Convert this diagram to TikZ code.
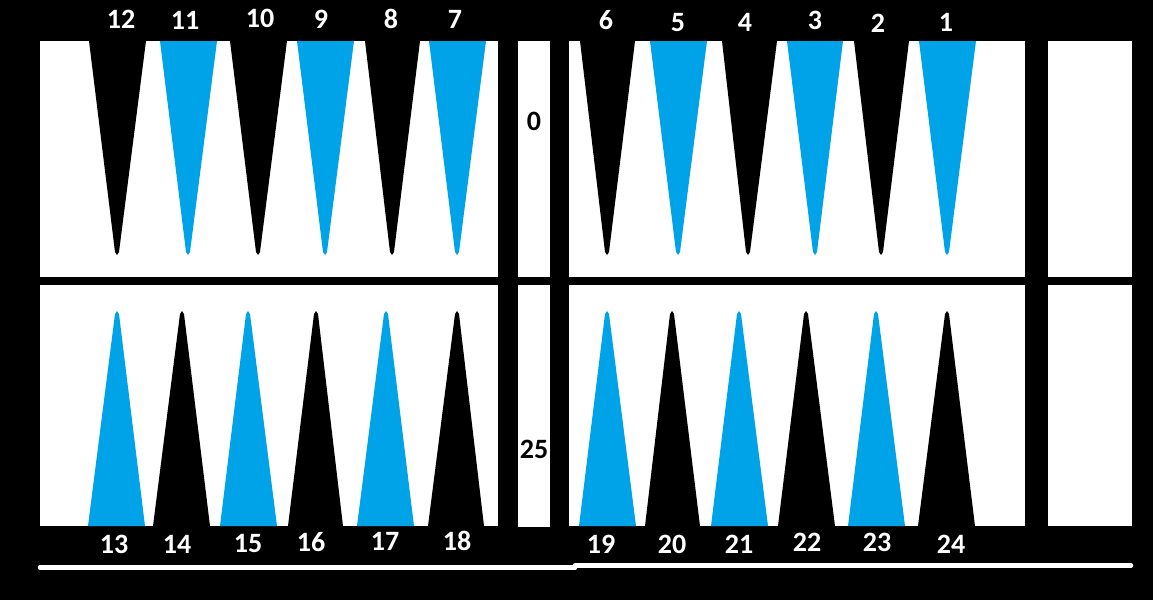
\documentclass[tikz,border=0pt]{standalone}
\usepackage{fontspec}
\setmainfont{Carlito}
\usepackage{tikz}
\usepackage{xcolor}
\definecolor{pip}{HTML}{00A2E8}

\begin{document}
\begin{tikzpicture}[x=1pt,y=-1pt,every node/.style={font=\fontsize{28}{28}\selectfont\bfseries,inner sep=0pt}]
    \tikzstyle{num}=[text=white];
    \tikzstyle{barnum}=[text=black];
    \tikzstyle{field}=[fill=white];
    \useasboundingbox (0,0) rectangle (1153,600);
    \fill[black] (0,0) rectangle (1153,600);
    % board fields
    \fill[field] (40,41) rectangle (498,277);
    \fill[field] (40,285) rectangle (498,526);
    \fill[field] (518,41) rectangle (550,277);
    \fill[field] (518,285) rectangle (550,527);
    \fill[field] (569,41) rectangle (1025,277);
    \fill[field] (569,285) rectangle (1025,526);
    \fill[field] (1048,41) rectangle (1132,277);
    \fill[field] (1048,285) rectangle (1132,526);
    % points, top row
    \foreach \l/\r/\t/\c in {89/146/117/black,160/217/188/pip,230/287/258/black,297/354/325/pip,
        365/420/392/black,429/486/457/pip,580/635/607/black,650/707/678/pip,
        722/777/748/black,787/843/815/pip,854/909/881/black,919/976/947/pip}
      \fill[\c] (\l,41) -- (\t-2,252) -- (\t,255) -- (\t+2,252) -- (\r,41) -- cycle;
    % points, bottom row
    \foreach \l/\r/\t/\c in {88/145/117/pip,153/210/182/black,220/277/248/pip,288/343/316/black,
        357/414/386/pip,428/484/457/black,579/636/607/pip,645/700/672/black,
        711/768/739/pip,778/835/806/black,848/905/876/pip,918/975/947/black}
      \fill[\c] (\l,526) -- (\t-2,314) -- (\t,311) -- (\t+2,314) -- (\r,526) -- cycle;
    % numbers
    \foreach \n/\x/\y in {12/121/19,11/185/20,10/260/18,9/321/19,8/391/19,7/455/19,
        6/606/20,5/678/23,4/745/22,3/815/20,2/878/23,1/946/22}
      \node[num] (p\n) at (\x,\y) {\n};
    \foreach \n/\x/\y in {13/114/544,14/177/544,15/248/543,16/311/542,17/385/541,18/457/541,
        19/601/544,20/672/544,21/739/544,22/807/542,23/877/542,24/951/544}
      \node[num] (p\n) at (\x,\y) {\n};
    \node[barnum] (bar0) at (534,121) {0};
    \node[barnum] (bar25) at (534,449) {25};
    % base lines
    \draw[white,line width=4.5pt,line cap=round] (40,567.5) -- (575,567.5);
    \draw[white,line width=4.5pt,line cap=round] (575,565.5) -- (1131,565.5);
\end{tikzpicture}
\end{document}
